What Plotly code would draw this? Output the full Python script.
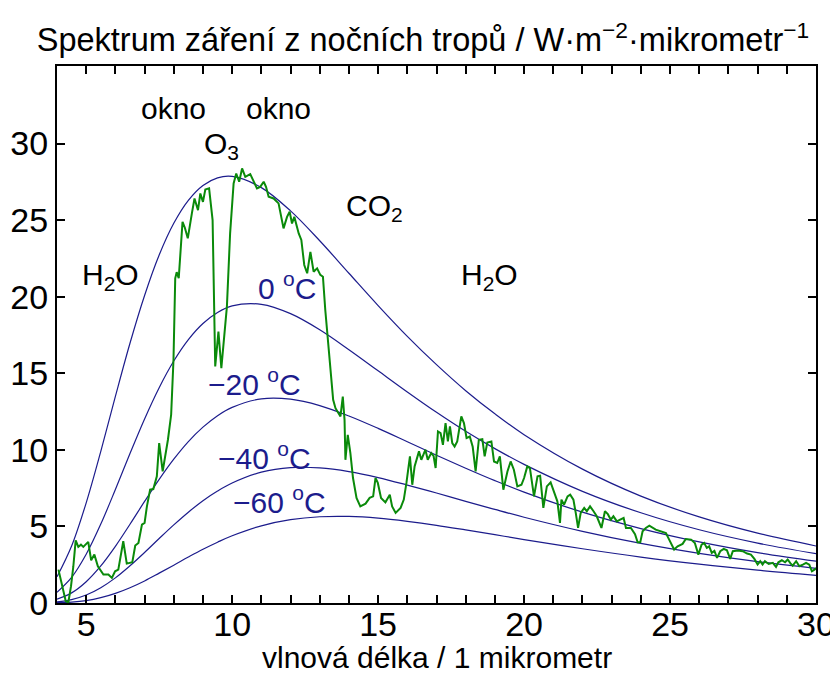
import plotly.graph_objects as go

# Blackbody reference curves, wavelength in micrometres
wl_curve = [4, 4.5, 5, 5.5, 6, 6.5, 7, 7.5, 8, 8.5, 9, 9.5, 10, 11, 12, 13, 14, 15,
            16, 17, 18, 19, 20, 22, 24, 26, 28, 30]
t_p20 = [1.71, 3.72, 6.54, 9.90, 13.49, 16.96, 20.08, 22.72, 24.79, 26.29, 27.26, 27.76,
         27.85, 27.12, 25.60, 23.65, 21.53, 19.42, 17.41, 15.56, 13.86, 12.35, 10.99, 8.74,
         6.98, 5.62, 4.56, 3.72]
t_0 = [0.70, 1.67, 3.18, 5.15, 7.41, 9.76, 12.02, 14.06, 15.80, 17.20, 18.25, 18.97,
       19.40, 19.50, 18.89, 17.84, 16.54, 15.16, 13.78, 12.45, 11.21, 10.08, 9.05, 7.29,
       5.89, 4.78, 3.91, 3.22]
t_m20 = [0.25, 0.66, 1.39, 2.42, 3.70, 5.14, 6.63, 8.07, 9.39, 10.54, 11.48, 12.23,
         12.77, 13.33, 13.31, 12.89, 12.21, 11.40, 10.53, 9.65, 8.80, 7.99, 7.24, 5.93,
         4.86, 3.99, 3.29, 2.73]
t_m40 = [0.07, 0.22, 0.52, 1.00, 1.64, 2.43, 3.30, 4.21, 5.10, 5.93, 6.68, 7.31,
         7.83, 8.54, 8.84, 8.82, 8.58, 8.19, 7.70, 7.18, 6.64, 6.11, 5.60, 4.68,
         3.89, 3.24, 2.70, 2.26]
t_m60 = [0.02, 0.06, 0.16, 0.35, 0.63, 1.00, 1.44, 1.95, 2.47, 3.00, 3.51, 3.97,
         4.39, 5.04, 5.44, 5.63, 5.65, 5.54, 5.33, 5.07, 4.77, 4.46, 4.14, 3.54,
         3.00, 2.54, 2.14, 1.81]

# Measured night-time tropical spectrum (green)
wl_meas = [4.05, 4.18, 4.30, 4.39, 4.48, 4.56, 4.64, 4.73, 4.82, 4.90, 4.98, 5.07, 5.17,
           5.28, 5.40, 5.59, 5.76, 5.88, 5.99, 6.10, 6.27, 6.39, 6.58, 6.68, 6.79, 6.91,
           7.00, 7.08, 7.19, 7.30, 7.42, 7.50, 7.62, 7.80, 7.91, 7.99, 8.05, 8.10, 8.17,
           8.30, 8.38, 8.48, 8.62, 8.71, 8.83, 8.91, 9.00, 9.08, 9.21, 9.33, 9.42, 9.53,
           9.63, 9.71, 9.82, 9.93, 10.05, 10.14, 10.24, 10.34, 10.45, 10.62, 10.73, 10.85,
           10.96, 11.08, 11.16, 11.25, 11.42, 11.59, 11.76, 11.88, 11.97, 12.05, 12.13,
           12.28, 12.37, 12.47, 12.57, 12.68, 12.79, 12.91, 13.02, 13.11, 13.19, 13.27,
           13.37, 13.46, 13.54, 13.65, 13.71, 13.79, 13.85, 13.88, 13.96, 14.05, 14.14,
           14.26, 14.39, 14.57, 14.71, 14.83, 14.91, 14.99, 15.10, 15.25, 15.40, 15.48,
           15.60, 15.77, 15.88, 15.97, 16.09, 16.17, 16.25, 16.40, 16.48, 16.62, 16.70,
           16.82, 16.90, 16.97, 17.05, 17.14, 17.22, 17.31, 17.39, 17.46, 17.54, 17.62,
           17.71, 17.85, 17.94, 18.03, 18.14, 18.24, 18.34, 18.45, 18.57, 18.65, 18.74,
           18.88, 18.97, 19.08, 19.17, 19.29, 19.43, 19.54, 19.65, 19.77, 19.91, 20.00,
           20.11, 20.20, 20.34, 20.46, 20.55, 20.66, 20.78, 20.91, 21.03, 21.14, 21.23,
           21.28, 21.37, 21.49, 21.58, 21.69, 21.77, 21.85, 21.94, 22.06, 22.15, 22.26,
           22.38, 22.49, 22.65, 22.77, 22.87, 22.97, 23.06, 23.18, 23.29, 23.41, 23.49,
           23.66, 23.80, 23.89, 23.98, 24.06, 24.17, 24.29, 24.51, 24.69, 24.86, 24.97,
           25.09, 25.14, 25.26, 25.43, 25.54, 25.72, 25.85, 25.97, 26.08, 26.17, 26.26,
           26.34, 26.43, 26.52, 26.61, 26.72, 26.84, 26.95, 27.06, 27.15, 27.32, 27.49,
           27.64, 27.77, 27.89, 28.00, 28.09, 28.17, 28.25, 28.38, 28.52, 28.63, 28.71,
           28.83, 28.94, 29.03, 29.12, 29.20, 29.32, 29.43, 29.55, 29.66, 29.77, 29.86,
           29.95, 30.06]
val_meas = [2.18, 1.10, 0.12, 0.05, 1.10, 2.40, 4.09, 3.66, 3.81, 3.66, 3.81, 3.99, 2.79,
            3.16, 2.40, 1.86, 1.86, 1.64, 2.07, 2.18, 4.03, 2.57, 2.66, 3.75, 3.92, 5.12,
            5.23, 6.31, 7.40, 7.44, 8.27, 10.44, 8.60, 10.66, 12.29, 15.87, 21.2, 21.6, 21.2,
            24.89, 24.5, 23.81, 25.44, 26.41, 25.65, 26.74, 26.19, 27.0, 27.07, 25.0, 15.44,
            17.72, 15.33, 16.96, 19.35, 24.13, 27.39, 28.04, 27.5, 28.37, 27.82, 28.0, 27.6,
            27.07, 27.17, 27.5, 27.17, 26.52, 26.41, 26.09, 24.46, 25.21, 25.54, 24.78,
            25.21, 24.13, 23.70, 22.07, 21.53, 22.93, 21.63, 21.85, 21.42, 21.30, 19.13,
            17.39, 15.66, 13.27, 12.72, 12.40, 12.18, 13.48, 11.96, 9.35, 10.98, 9.79,
            8.16, 6.86, 6.31, 6.49, 6.86, 6.96, 8.16, 7.84, 6.86, 6.57, 7.07, 6.31, 5.88,
            6.21, 6.75, 7.84, 9.57, 7.72, 8.92, 9.90, 9.35, 10.01, 9.35, 9.79, 9.6, 8.81,
            11.20, 11.09, 10.33, 11.75, 10.55, 11.53, 10.44, 10.22, 10.55, 12.18, 11.75,
            10.77, 10.87, 10.2, 8.59, 10.66, 10.70, 9.57, 10.48, 10.55, 9.24, 9.14, 9.57,
            7.40, 8.59, 9.24, 8.70, 7.61, 7.72, 8.16, 8.92, 8.81, 6.96, 8.27, 8.31, 6.21,
            7.61, 7.88, 7.29, 6.64, 5.23, 6.75, 6.42, 6.96, 7.07, 6.75, 5.88, 4.90, 5.88,
            6.21, 5.99, 6.31, 5.99, 5.66, 4.90, 5.99, 5.8, 5.44, 5.66, 5.33, 5.44, 5.55,
            4.90, 4.90, 4.5, 3.96, 3.96, 4.68, 4.90, 5.05, 4.79, 4.68, 4.57, 4.14, 3.60,
            3.49, 3.70, 3.86, 4.18, 4.14, 3.92, 3.16, 3.81, 3.92, 3.60, 3.70, 3.27, 3.4,
            2.95, 3.38, 3.53, 3.44, 2.88, 3.38, 3.42, 3.38, 3.23, 3.16, 2.88, 2.51, 2.73,
            2.51, 2.73, 2.55, 2.62, 2.36, 2.66, 2.79, 2.66, 2.84, 2.6, 2.44, 2.73, 2.40,
            2.51, 2.62, 2.5, 2.07, 2.18, 2.33]

x_tickvals = [5, 10, 15, 20, 25, 30]
y_tickvals = [0, 5, 10, 15, 20, 25, 30]

BLUE = "#1c1c8c"
GREEN = "#0a8a0a"
FONT = "Liberation Sans, Arial, sans-serif"

# page body has an 8px margin: figure is 830x667 so that it fills the 838x675 view
W, H = 830, 667
ML, MR, MT, MB = 49, 22, 58, 72

fig = go.Figure()
for ys in [t_p20, t_0, t_m20, t_m40, t_m60]:
    fig.add_trace(go.Scatter(x=wl_curve, y=ys, mode="lines",
                             line=dict(color=BLUE, width=1.2, shape="spline", smoothing=1.0),
                             hoverinfo="skip", showlegend=False))
fig.add_trace(go.Scatter(x=wl_meas, y=val_meas, mode="lines",
                         line=dict(color=GREEN, width=2), showlegend=False))

black_labels = [
    (7.99, 32.3, "okno"),
    (11.59, 32.3, "okno"),
    (9.65, 29.9, "O<sub>3</sub>"),
    (14.86, 25.8, "CO<sub>2</sub>"),
    (5.82, 21.3, "H<sub>2</sub>O"),
    (18.83, 21.3, "H<sub>2</sub>O"),
]
for x, y, t in black_labels:
    fig.add_annotation(x=x, y=y, text=t, showarrow=False,
                       font=dict(size=30, color="black", family=FONT))

temp_labels = [
    (11.89, 20.7, "0 <sup>o</sup>C"),
    (10.76, 14.4, "−20 <sup>o</sup>C"),
    (11.12, 9.6, "−40 <sup>o</sup>C"),
    (11.62, 6.7, "−60 <sup>o</sup>C"),
]
for x, y, t in temp_labels:
    fig.add_annotation(x=x, y=y, text=t, showarrow=False,
                       font=dict(size=30, color=BLUE, family=FONT))

plot_h = H - MT - MB
fig.add_annotation(x=0.5, xref="paper", y=-(649 - (H - MB)) / plot_h, yref="paper",
                   yanchor="middle", text="vlnová délka / 1 mikrometr", showarrow=False,
                   font=dict(size=30, color="black", family=FONT))

fig.update_layout(
    width=W, height=H,
    margin=dict(l=ML, r=MR, t=MT, b=MB),
    plot_bgcolor="white", paper_bgcolor="white",
    font=dict(family=FONT, color="black", size=30),
    title=dict(text="Spektrum záření z nočních tropů / W·m<sup>−2</sup>·mikrometr<sup>−1</sup>",
               x=415 / W, xref="container", xanchor="center",
               y=1 - 32 / H, yref="container", yanchor="middle",
               font=dict(size=32.5, family=FONT, color="black")),
    showlegend=False,
)
fig.update_xaxes(range=[4, 30], tickvals=x_tickvals,
                 ticks="inside", ticklen=8, tickwidth=1.5, tickcolor="black",
                 minor=dict(dtick=1, tick0=0, ticks="inside", ticklen=8, tickwidth=1.5,
                            tickcolor="black", showgrid=False),
                 showline=True, linecolor="black", linewidth=2, mirror="ticks",
                 showgrid=False, zeroline=False, automargin=False,
                 ticklabelstandoff=-10,
                 tickfont=dict(size=34, family=FONT))
fig.update_yaxes(range=[0, 35.06], tickvals=y_tickvals,
                 ticks="inside", ticklen=8, tickwidth=1.5, tickcolor="black",
                 showline=True, linecolor="black", linewidth=2, mirror="ticks",
                 showgrid=False, zeroline=False, automargin=False,
                 tickfont=dict(size=34, family=FONT))

fig.write_html("out.html")
